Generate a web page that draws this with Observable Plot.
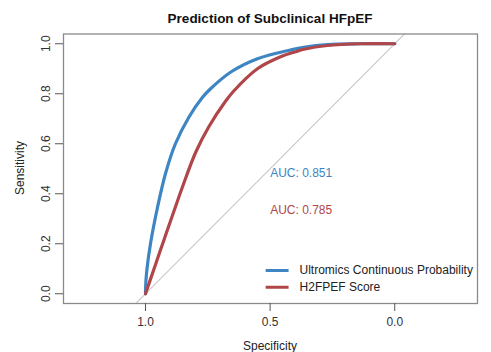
<!DOCTYPE html>
<html>
<head>
<meta charset="utf-8">
<script src="https://cdn.jsdelivr.net/npm/d3@7"></script>
<script src="https://cdn.jsdelivr.net/npm/@observablehq/plot@0.6"></script>
<style>
  html, body { margin: 0; padding: 0; background: #fff; }
  #chart { width: 491px; height: 352px; }
  svg { font-family: "Liberation Sans", Arial, Helvetica, sans-serif; }
</style>
</head>
<body>
<div id="chart"></div>
<script>
const title = "Prediction of Subclinical HFpEF";
const seriesNames = ["Ultromics Continuous Probability", "H2FPEF Score"];
const seriesColors = ["#3d85c3", "#b0464a"];
const aucLabels = ["AUC: 0.851", "AUC: 0.785"];
const aucY = [0.484, 0.333];

const blueSpec = [1.0, 0.999, 0.994, 0.980, 0.953, 0.920, 0.880, 0.826, 0.772, 0.739, 0.659, 0.551, 0.418, 0.365, 0.270, 0.137, 0.0];
const blueSens = [0.0, 0.040, 0.100, 0.200, 0.340, 0.480, 0.600, 0.706, 0.785, 0.820, 0.886, 0.940, 0.975, 0.986, 0.997, 1.0, 1.0];

const redSpec = [1.0, 0.967, 0.926, 0.886, 0.850, 0.799, 0.746, 0.679, 0.645, 0.551, 0.458, 0.391, 0.364, 0.270, 0.137, 0.0];
const redSens = [0.0, 0.096, 0.215, 0.330, 0.432, 0.565, 0.668, 0.770, 0.812, 0.900, 0.948, 0.970, 0.978, 0.993, 1.0, 1.0];

const xTicks = [1.0, 0.5, 0.0];
const yTicks = [0.0, 0.2, 0.4, 0.6, 0.8, 1.0];

const curves = [
  ...blueSpec.map((s, i) => ({series: seriesNames[0], spec: s, sens: blueSens[i]})),
  ...redSpec.map((s, i) => ({series: seriesNames[1], spec: s, sens: redSens[i]}))
];
const xDom = [1.329, -0.332];
const yDom = [-0.039, 1.039];
const diag = [{spec: 1.2, sens: -0.2}, {spec: -0.2, sens: 1.2}];
const legendItems = seriesNames.map((n, i) => ({name: n, color: seriesColors[i], y: [0.093, 0.026][i]}));
const aucItems = aucLabels.map((t, i) => ({text: t, color: seriesColors[i], y: aucY[i]}));

const chart = Plot.plot({
  width: 491,
  height: 352,
  marginLeft: 63,
  marginRight: 14,
  marginTop: 33.5,
  marginBottom: 49,
  style: {fontFamily: '"Liberation Sans", Arial, sans-serif', background: "#fff"},
  x: {domain: xDom},
  y: {domain: yDom},
  marks: [
    Plot.line(diag, {x: "spec", y: "sens", stroke: "#c8c8c8", strokeWidth: 1.1, clip: true}),
    Plot.line(curves, {x: "spec", y: "sens", z: "series", stroke: d => d.series === seriesNames[0] ? seriesColors[0] : seriesColors[1], strokeWidth: 3.2, curve: "catmull-rom", clip: true}),
    Plot.frame({stroke: "#8a8a8a", strokeWidth: 1.3}),
    Plot.axisX(xTicks, {tickSize: 8, tickPadding: 6, tickFormat: d3.format(".1f"), fontSize: 12, stroke: "#555", color: "#333", label: null}),
    Plot.axisY(yTicks, {tickSize: 8, tickPadding: 6, tickFormat: d3.format(".1f"), fontSize: 12, stroke: "#555", color: "#333", tickRotate: -90, label: null}),
    Plot.text(aucItems, {x: 0.5, y: "y", text: "text", fill: "color", textAnchor: "start", fontSize: 12}),
    Plot.link(legendItems, {x1: 0.518, x2: 0.426, y1: "y", y2: "y", stroke: "color", strokeWidth: 3}),
    Plot.text(legendItems, {x: 0.382, y: "y", text: "name", fill: "#222", textAnchor: "start", fontSize: 12})
  ]
});

const svg = d3.select(chart);
svg.append("text").attr("x", 270).attr("y", 23).attr("text-anchor", "middle")
  .attr("font-weight", "bold").attr("font-size", 13.5).attr("fill", "#111").text(title);
svg.append("text").attr("x", 270).attr("y", 350).attr("text-anchor", "middle")
  .attr("font-size", 12).attr("fill", "#222").text("Specificity");
svg.append("text").attr("transform", "translate(24,168) rotate(-90)").attr("text-anchor", "middle")
  .attr("font-size", 12).attr("fill", "#222").text("Sensitivity");

document.getElementById("chart").appendChild(chart);
</script>
</body>
</html>
